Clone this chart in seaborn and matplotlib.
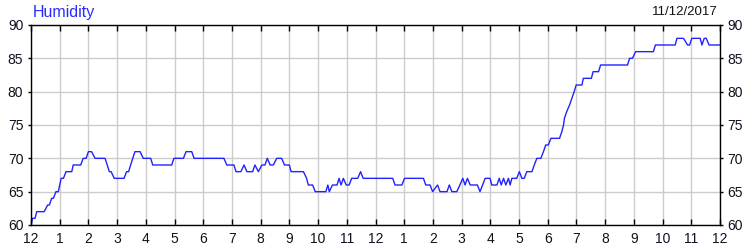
import matplotlib
matplotlib.use("Agg")
import matplotlib.pyplot as plt
import seaborn as sns
import pandas as pd

# ---- data ----
hours = [0, 0.05, 0.14, 0.2, 0.46, 0.58, 0.64, 0.72, 0.78, 0.87, 0.95, 1.05, 1.13, 1.22, 1.42, 1.47,
         1.73, 1.82, 1.92, 2.0, 2.11, 2.23, 2.58, 2.73, 2.79, 2.9, 3.24, 3.33, 3.4, 3.47, 3.62, 3.8,
         3.91, 4.17, 4.24, 4.9, 4.98, 5.31, 5.4, 5.6, 5.68, 6.72, 6.82, 7.07, 7.14, 7.31, 7.42, 7.52,
         7.72, 7.8, 7.92, 8.04, 8.15, 8.23, 8.33, 8.44, 8.56, 8.73, 8.83, 9.0, 9.06, 9.49, 9.6, 9.66,
         9.81, 9.9, 10.27, 10.34, 10.39, 10.5, 10.66, 10.73, 10.8, 10.88, 10.98, 11.08, 11.17, 11.38,
         11.48, 11.57, 12.6, 12.68, 12.92, 13.01, 13.67, 13.75, 13.9, 13.99, 14.16, 14.25, 14.49,
         14.57, 14.66, 14.83, 14.94, 15.04, 15.12, 15.2, 15.3, 15.55, 15.64, 15.82, 15.99, 16.05,
         16.23, 16.31, 16.38, 16.46, 16.54, 16.63, 16.69, 16.75, 16.92, 17.01, 17.1, 17.18, 17.27,
         17.45, 17.53, 17.62, 17.76, 17.85, 17.93, 18.02, 18.11, 18.41, 18.49, 18.55, 18.58, 18.66,
         18.76, 18.84, 18.92, 18.99, 19.19, 19.24, 19.52, 19.58, 19.77, 19.84, 20.78, 20.85, 20.95,
         21.06, 21.68, 21.75, 22.44, 22.5, 22.73, 22.87, 22.94, 23.02, 23.31, 23.37, 23.45, 23.52,
         23.62, 24.0]
humidity = [60, 61, 61, 62, 62, 63, 63, 64, 64, 65, 65, 67, 67, 68, 68, 69,
            69, 70, 70, 71, 71, 70, 70, 68, 68, 67, 67, 68, 68, 69, 71, 71,
            70, 70, 69, 69, 70, 70, 71, 71, 70, 70, 69, 69, 68, 68, 69, 68,
            68, 69, 68, 69, 69, 70, 69, 69, 70, 70, 69, 69, 68, 68, 67, 66,
            66, 65, 65, 66, 65, 66, 66, 67, 66, 67, 66, 66, 67, 67,
            68, 67, 67, 66, 66, 67, 67, 66, 66, 65, 66, 65, 65,
            66, 65, 65, 66, 67, 66, 67, 66, 66, 65, 67, 67, 66,
            66, 67, 66, 67, 66, 67, 66, 67, 67, 68, 67, 67, 68,
            68, 69, 70, 70, 71, 72, 72, 73, 73, 74, 75, 76, 77,
            78, 79, 80, 81, 81, 82, 82, 83, 83, 84, 84, 85, 85,
            86, 86, 87, 87, 88, 88, 87, 87, 88, 88, 87, 88, 88,
            87, 87]
x_tick_labels = ["12", "1", "2", "3", "4", "5", "6", "7", "8", "9", "10", "11",
                 "12", "1", "2", "3", "4", "5", "6", "7", "8", "9", "10", "11", "12"]
y_ticks = [60, 65, 70, 75, 80, 85, 90]
title_text = "Humidity"
date_text = "11/12/2017"

df = pd.DataFrame({"hour": hours, "humidity": humidity})

sns.set_theme(style="white")
plt.rcParams["font.family"] = ["Liberation Sans", "DejaVu Sans"]

fig = plt.figure(figsize=(7.5, 2.5), dpi=100)
ax = fig.add_axes([31 / 750, 25 / 250, 689 / 750, 200 / 250])

sns.lineplot(data=df, x="hour", y="humidity", ax=ax, color="#2222ff", linewidth=1.0)

ax.set_xlim(0, 24)
ax.set_ylim(60, 90)
ax.set_xticks(range(25))
ax.set_xticklabels(x_tick_labels)
ax.set_yticks(y_ticks)
ax.set_xlabel("")
ax.set_ylabel("")

ax.grid(True, color="#cccccc", linewidth=1.0)
ax.set_axisbelow(True)
for s in ax.spines.values():
    s.set_visible(True)
    s.set_color("black")
    s.set_linewidth(1.0)

ax.tick_params(axis="x", which="both", direction="in", length=4, width=1, color="black",
               top=True, bottom=True, labelsize=10, pad=5, labelcolor="#111122")
ax.tick_params(axis="y", which="both", direction="out", length=2.5, width=1, color="black",
               left=True, right=True, labelleft=True, labelright=True, labelsize=10, pad=3,
               labelcolor="#111122")

fig.text(33 / 750, 1 - 13 / 250, title_text, color="#2a2aff", fontsize=11.5,
         ha="left", va="center")
fig.text(718 / 750, 1 - 12 / 250, date_text, color="#111111", fontsize=9.5,
         ha="right", va="center")

fig.savefig("out.png", dpi=100)
